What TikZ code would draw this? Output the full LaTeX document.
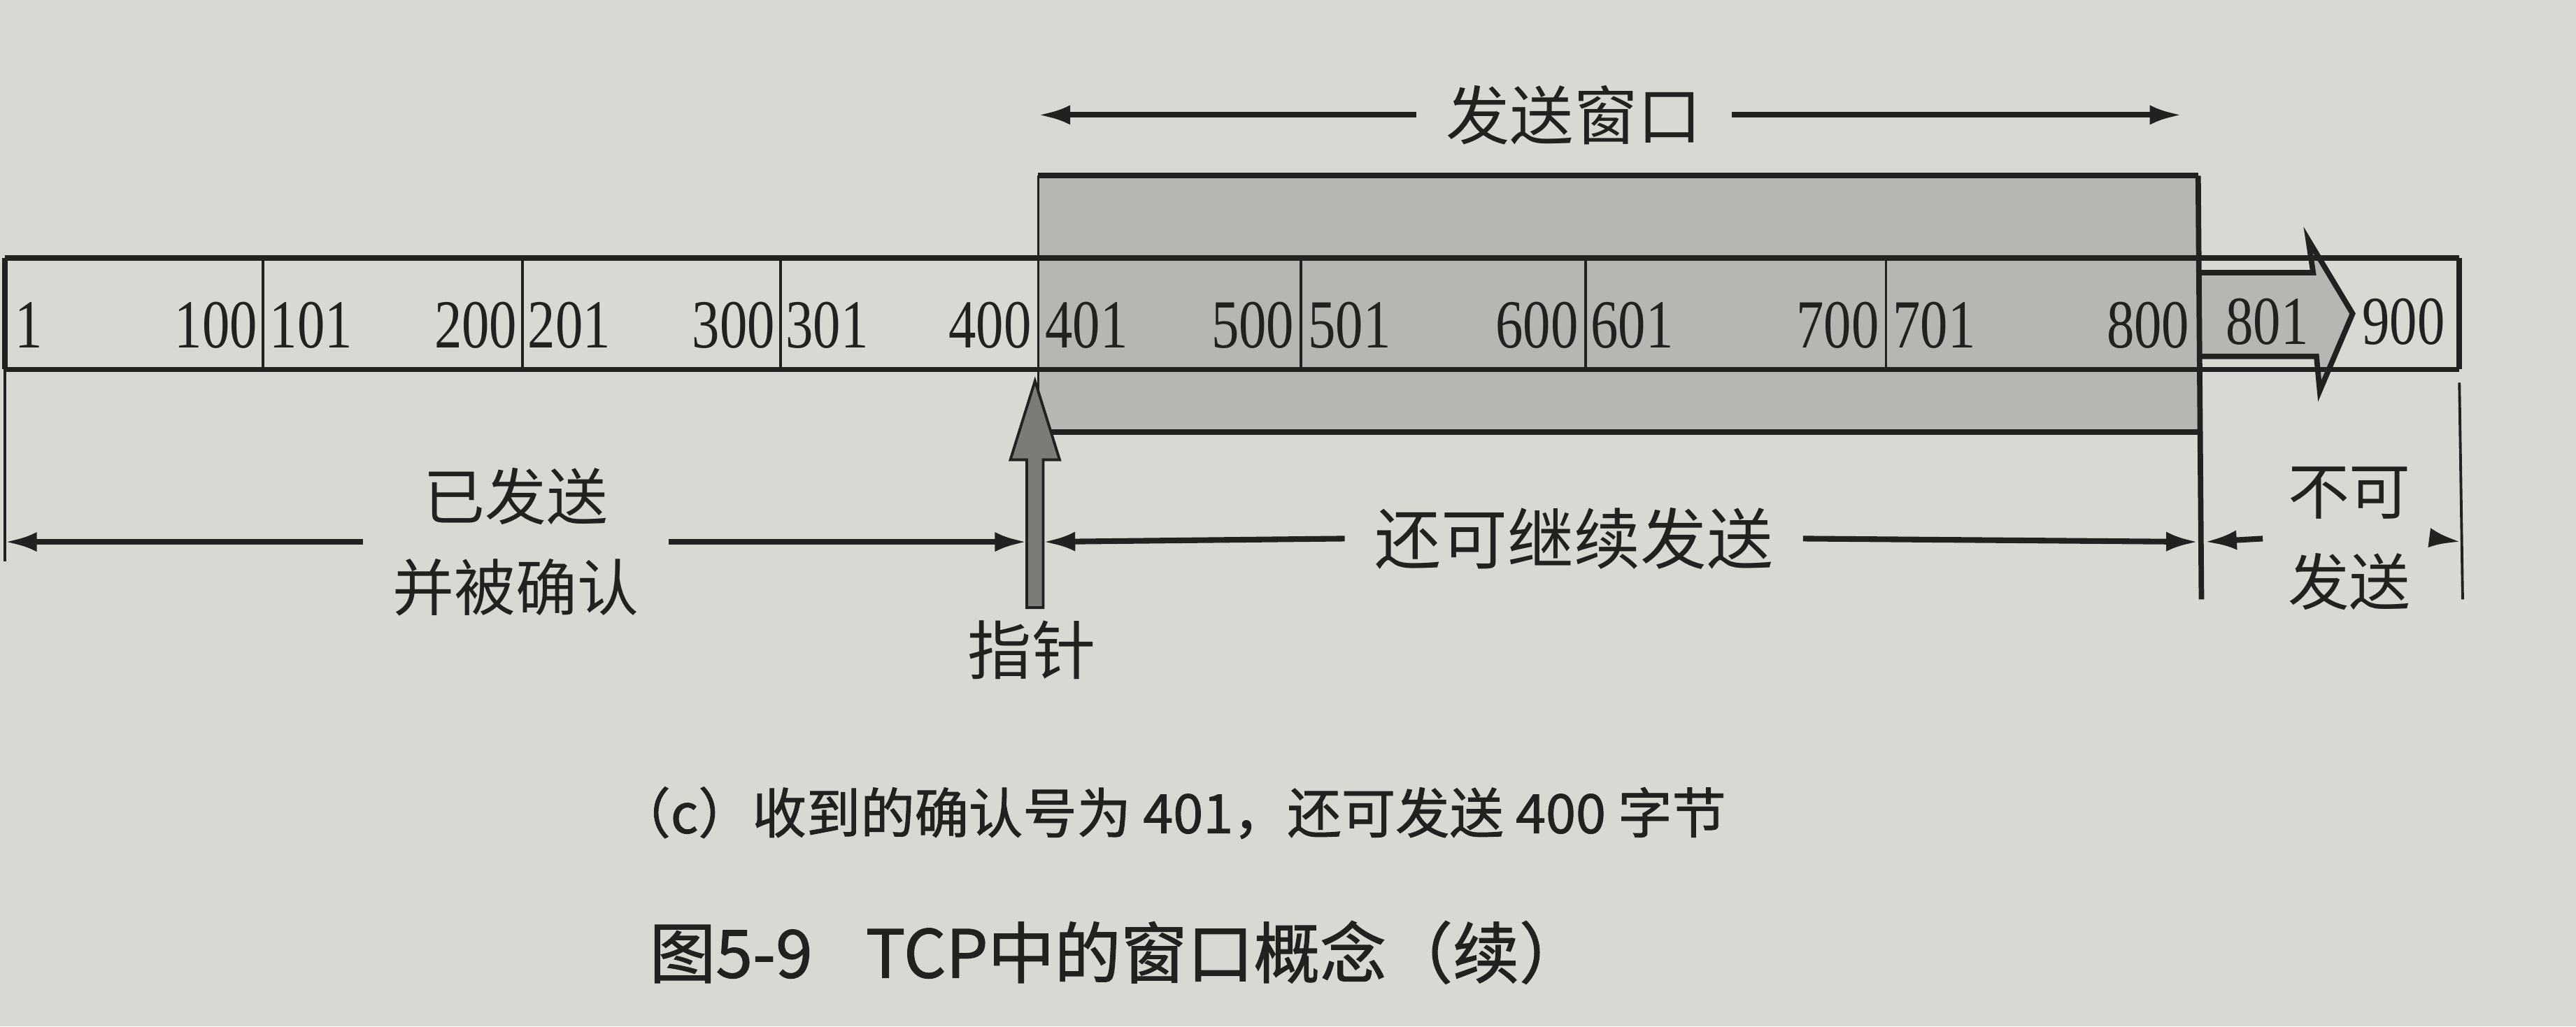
\documentclass[tikz,border=0pt]{standalone}
\usepackage{fontspec}
\setmainfont{Liberation Serif}
\newfontfamily\cjk{Noto Sans CJK SC}
\newfontfamily\cjkb[FakeBold=1.2]{Noto Sans CJK SC}
\newfontfamily\numfont[FakeStretch=0.8]{Liberation Serif}
\usetikzlibrary{arrows.meta,calc}
\definecolor{paper}{RGB}{218,216,211}
\definecolor{ink}{RGB}{35,33,32}
\definecolor{winfill}{RGB}{184,182,178}
\definecolor{ptrfill}{RGB}{125,123,120}
\tikzset{
  thickline/.style={line width=2.2pt, draw=ink},
  thinline/.style={line width=1.1pt, draw=ink},
  dimarrow/.style={line width=2.3pt, draw=ink, -{Latex[length=13pt,width=8pt]}},
  num/.style={font=\numfont\fontsize{28}{28}\selectfont, text=ink, inner sep=0pt},
  lab/.style={font=\cjk\fontsize{26}{30}\selectfont, text=ink, align=center, inner sep=12},
  captext/.style={font=\cjkb\fontsize{22}{24}\selectfont, text=ink, inner sep=0pt, anchor=west},
}
\begin{document}
\begin{tikzpicture}[x=0.02349cm, y=-0.02349cm]
\useasboundingbox (0,0) rectangle (1568,625);
\fill[paper] (0,0) rectangle (1568,625);

% sending window shaded box
\fill[winfill] (632,107) rectangle (1338,263);
% 801 arrow shape fill
\fill[winfill] (1338,166) -- (1408,166) -- (1405,146) -- (1432,191) -- (1412,238) -- (1410,217) -- (1338,217) -- cycle;

% byte strip
\draw[thickline] (3,157) -- (1497,157);
\draw[thickline] (3,225) -- (1497,225);
\draw[thickline] (3,157) -- (3,225);
\draw[thickline] (1497,157) -- (1497,225);
\foreach \x in {160,318,475,792,965,1148}
  \draw[thinline] (\x,157) -- (\x,225);

% window outline
\draw[thickline] (632,107) -- (1338,107);
\draw[thickline] (632,263) -- (1338,263);
\draw[thinline] (632,107) -- (632,263);
\draw[thickline] (1338,107) -- (1340,365);

% 801 arrow outline
\draw[thickline, line join=miter] (1338,166) -- (1408,166) -- (1405,146) -- (1432,191) -- (1412,238) -- (1410,217) -- (1338,217);

% numbers
\node[num, anchor=west] (n1) at (9,198) {1};
\node[num, anchor=east] (n100) at (157,198) {100};
\node[num, anchor=west] (n101) at (164,198) {101};
\node[num, anchor=east] (n200) at (315,198) {200};
\node[num, anchor=west] (n201) at (321,198) {201};
\node[num, anchor=east] (n300) at (472,198) {300};
\node[num, anchor=west] (n301) at (478,198) {301};
\node[num, anchor=east] (n400) at (628,198) {400};
\node[num, anchor=west] (n401) at (636,198) {401};
\node[num, anchor=east] (n500) at (788,198) {500};
\node[num, anchor=west] (n501) at (796,198) {501};
\node[num, anchor=east] (n600) at (961,198) {600};
\node[num, anchor=west] (n601) at (968,198) {601};
\node[num, anchor=east] (n700) at (1144,198) {700};
\node[num, anchor=west] (n701) at (1152,198) {701};
\node[num, anchor=east] (n800) at (1333,198) {800};
\node[num] (n801) at (1380,196) {801};
\node[num] (n900) at (1463,196) {900};

% vertical extension lines
\draw[thinline] (3,225) -- (3,342);
\draw[thinline] (1497,233) -- (1499,365);

% pointer arrow
\coordinate (ptip) at (630,232);
\coordinate (pbase) at (630,370);
\draw[thinline, fill=ptrfill, line join=miter]
  ($(pbase)+(-5,0)$) -- ($(ptip)+(-5,48)$) -- ($(ptip)+(-15,48)$) -- (ptip)
  -- ($(ptip)+(15,48)$) -- ($(ptip)+(5,48)$) -- ($(pbase)+(5,0)$) -- cycle;
\node[lab, inner sep=0] (ptrlab) at (628,396) {指针};

% top label
\node[lab] (winlab) at (958,70) {发送窗口};
\coordinate (wl) at (632,70);
\coordinate (wr) at (1328,70);
\draw[dimarrow] (winlab.west) -- (wl);
\draw[dimarrow] (winlab.east) -- (wr);

% bottom dimension line
\coordinate (dl) at (3,330);
\coordinate (dpl) at (625,330);
\coordinate (dpr) at (635,330);
\coordinate (dwl) at (1338,330);
\coordinate (dwr) at (1342,330);
\coordinate (de) at (1498,330);
\node[lab, font=\cjk\fontsize{25}{37}\selectfont] (sent) at (314,330) {已发送\\并被确认};
\node[lab, font=\cjk\fontsize{27}{30}\selectfont] (cont) at (958,328) {还可继续发送};
\node[lab, font=\cjk\fontsize{25}{37}\selectfont, inner sep=10] (nosend) at (1430,328) {不可\\发送};
\draw[dimarrow] (sent.west) -- (dl);
\draw[dimarrow] (sent.east) -- (dpl);
\draw[dimarrow] (cont.west) -- (dpr);
\draw[dimarrow] (cont.east) -- (dwl);
\draw[dimarrow] (nosend.west) -- (dwr);
\draw[dimarrow] (nosend.east) -- (de);

% captions
\node[captext] (cap) at (375,495) {（c）收到的确认号为 401，还可发送 400 字节};
\node[captext, font=\cjkb\fontsize{27}{30}\selectfont] (title) at (395,580) {图5-9\hspace{0.8em}TCP中的窗口概念（续）};
\end{tikzpicture}
\end{document}
